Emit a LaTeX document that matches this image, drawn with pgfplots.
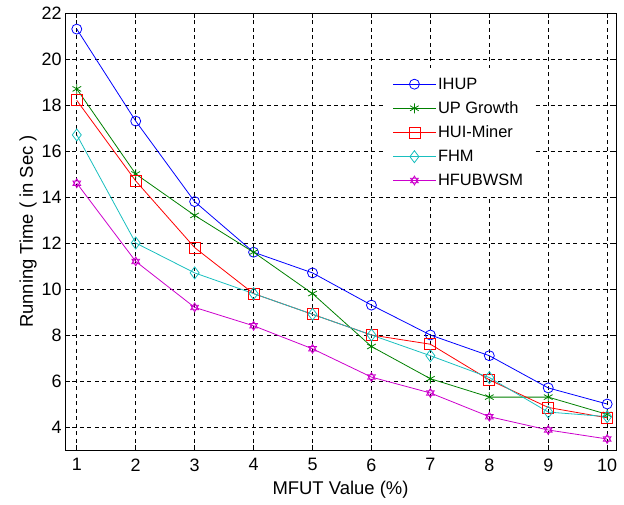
\documentclass[border=0pt]{standalone}
\usepackage{fontspec}
\setmainfont{Liberation Sans}
\usepackage{pgfplots}
\pgfplotsset{compat=1.18}
\usetikzlibrary{plotmarks}
\definecolor{mgreen}{rgb}{0,0.5,0}
\definecolor{mcyan}{rgb}{0.1,0.75,0.75}
\definecolor{mmag}{rgb}{0.8,0,0.8}
\pgfdeclareplotmark{hexagram}{%
 \pgfpathmoveto{\pgfpointpolar{90}{\pgfplotmarksize}}%
 \pgfpathlineto{\pgfpointpolar{210}{\pgfplotmarksize}}%
 \pgfpathlineto{\pgfpointpolar{330}{\pgfplotmarksize}}%
 \pgfpathclose
 \pgfpathmoveto{\pgfpointpolar{270}{\pgfplotmarksize}}%
 \pgfpathlineto{\pgfpointpolar{30}{\pgfplotmarksize}}%
 \pgfpathlineto{\pgfpointpolar{150}{\pgfplotmarksize}}%
 \pgfpathclose
 \pgfusepathqstroke}
\begin{document}
\begin{tikzpicture}
\begin{axis}[
  name=ax,
  scale only axis,
  width=551bp, height=437bp,
  xmin=0.8, xmax=10.15, ymin=3, ymax=22,
  xtick={1,...,10}, ytick={4,6,...,22},
  tick align=inside, xtick pos=both, ytick pos=both,
  major tick length=5bp,
  grid=major,
  major grid style={black, dashed, line width=0.6pt, dash pattern=on 4pt off 3.5pt},
  axis line style={black, line width=0.8pt},
  every tick/.style={black, line width=0.6pt},
  /pgf/number format/assume math mode=true,
  tick label style={font=\fontsize{18}{21}\selectfont},
  xticklabel style={yshift=-5pt},
  label style={font=\fontsize{18.5}{21}\selectfont},
  xlabel={MFUT Value (\%)},
  ylabel={Running Time ( in Sec )},
  xlabel style={yshift=-3pt},
  ylabel style={yshift=-2pt},
  legend style={at={(0.58,0.875)}, anchor=north west, draw=none, fill=white,
    font=\fontsize{16.5}{19}\selectfont, row sep=7pt, inner xsep=8pt, inner ysep=8pt},
  legend cell align=left,
  legend image code/.code={\draw[mark repeat=2,mark phase=2] plot coordinates {(0cm,0cm) (0.75cm,0cm) (1.5cm,0cm)};},
  every axis plot/.append style={line width=0.8pt},
]
\addplot[blue, mark=o, mark size=5bp] coordinates {(1,21.3)(2,17.3)(3,13.8)(4,11.6)(5,10.7)(6,9.3)(7,8.0)(8,7.1)(9,5.7)(10,5.0)};
\addlegendentry{IHUP}
\addplot[mgreen, mark=asterisk, mark size=5bp] coordinates {(1,18.7)(2,15.0)(3,13.2)(4,11.6)(5,9.8)(6,7.5)(7,6.1)(8,5.3)(9,5.3)(10,4.55)};
\addlegendentry{UP Growth}
\addplot[red, mark=square, mark size=5.5bp] coordinates {(1,18.2)(2,14.7)(3,11.8)(4,9.8)(5,8.9)(6,8.0)(7,7.6)(8,6.05)(9,4.85)(10,4.4)};
\addlegendentry{HUI-Miner}
\addplot[mcyan, mark=diamond, mark size=6bp] coordinates {(1,16.7)(2,12.0)(3,10.7)(4,9.8)(5,8.9)(6,8.0)(7,7.1)(8,6.15)(9,4.65)(10,4.45)};
\addlegendentry{FHM}
\addplot[mmag, mark=hexagram, mark size=4.5bp] coordinates {(1,14.6)(2,11.2)(3,9.2)(4,8.4)(5,7.4)(6,6.17)(7,5.48)(8,4.45)(9,3.87)(10,3.48)};
\addlegendentry{HFUBWSM}
\end{axis}
\path ([shift={(-65bp,-54bp)}]ax.south west) rectangle ([shift={(8bp,13bp)}]ax.north east);
\end{tikzpicture}
\end{document}
